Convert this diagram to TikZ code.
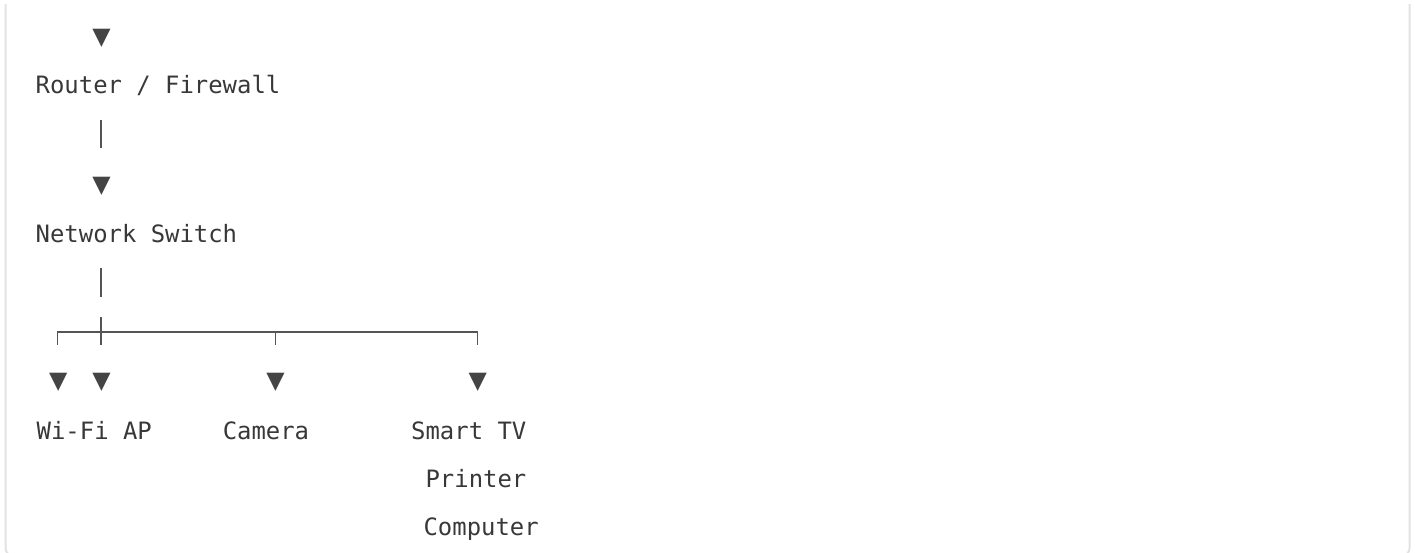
\documentclass[tikz,border=0pt]{standalone}
\usepackage{fontspec}
\newfontfamily\monofont{DejaVu Sans Mono}
\newfontfamily\symfont{DejaVu Sans}
\definecolor{txt}{HTML}{383838}
\definecolor{ln}{HTML}{555555}
\definecolor{tri}{HTML}{444444}
\definecolor{bord}{HTML}{E2E2E2}
\begin{document}
\begin{tikzpicture}[x=1pt,y=-1pt,
  lbl/.style={anchor=base west, inner sep=0pt, font=\monofont\fontsize{23.9}{28}\selectfont, text=txt},
  tipmark/.style={anchor=center, inner sep=0pt, font=\symfont\fontsize{23.8}{28}\selectfont, text=tri},
  wire/.style={draw=ln, line width=1.5pt},
  frame/.style={draw=bord, line width=2pt}]
\useasboundingbox (0,0) rectangle (1415,553);
\begin{scope}
  \clip (0,5) rectangle (1415,553);
  \draw[frame, rounded corners=8pt] (5.5,-20) rectangle (1409.5,556);
\end{scope}

% text nodes
\node[lbl] (router)   at (35.5,94)    {Router / Firewall};
\node[lbl] (switch)   at (35.5,242.7) {Network Switch};
\node[lbl] (wifi)     at (36.5,439)   {Wi-Fi AP};
\node[lbl] (camera)   at (222.6,439)  {Camera};
\node[lbl] (tv)       at (411,439)    {Smart TV};
\node[lbl] (printer)  at (425.4,487)  {Printer};
\node[lbl] (computer) at (423.4,535)  {Computer};

% arrow marks
\node[tipmark] (t0)  at (101.5,38.5) {▼};
\node[tipmark] (t1)  at (101.5,186.5) {▼};
\node[tipmark] (t2a) at (58.3,382)  {▼};
\node[tipmark] (t2b) at (101.5,382) {▼};
\node[tipmark] (t2c) at (275.5,382) {▼};
\node[tipmark] (t2d) at (477.7,382) {▼};

% connector coordinates
\coordinate (v1a) at (101,120);
\coordinate (v1b) at (101,148);
\coordinate (v2a) at (101,268);
\coordinate (v2b) at (101,297);
\coordinate (up)  at (101,317);
\coordinate (hub) at (101,332);
\coordinate (hl)  at (57.7,332);
\coordinate (hc)  at (275.5,332);
\coordinate (hr)  at (477.7,332);
\coordinate (dl)  at (57.7,345);
\coordinate (dm)  at (101,345);
\coordinate (dc)  at (275.5,345);
\coordinate (dr)  at (477.7,345);

\draw[wire] (v1a) -- (v1b);
\draw[wire] (v2a) -- (v2b);
\draw[wire] (up) -- (dm);
\draw[wire] (dl) -- (hl) -- (hr) -- (dr);
\draw[wire] (hc) -- (dc);
\end{tikzpicture}
\end{document}
